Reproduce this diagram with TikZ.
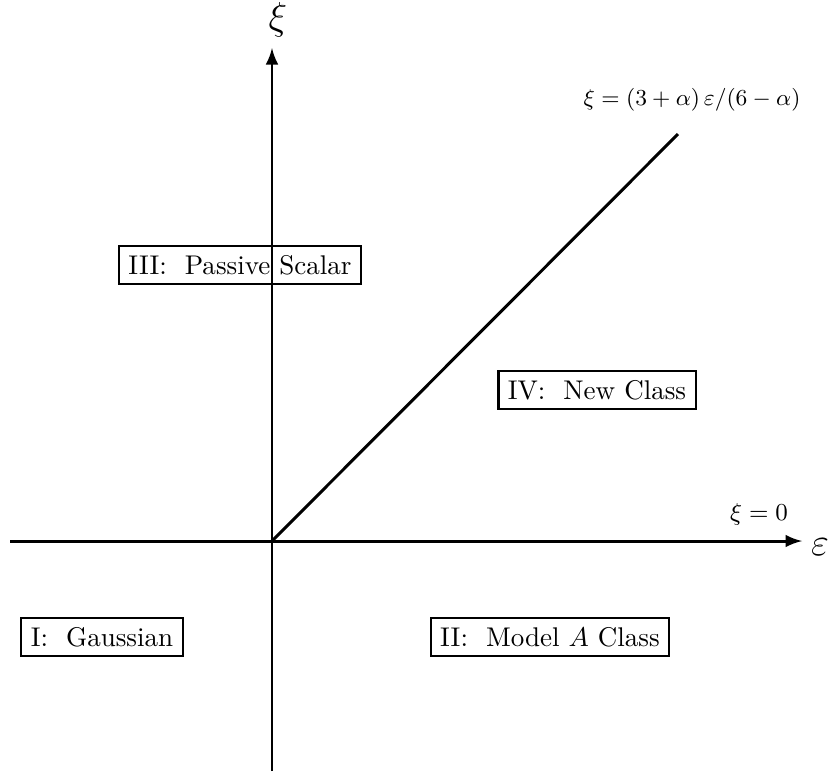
\documentclass[tikz,border=0pt]{standalone}
\usetikzlibrary{arrows}
\begin{document}
\begin{tikzpicture}[x=0.013cm,y=-0.013cm]

	\useasboundingbox (0,0) rectangle (835,773);

	\tikzset{
	  region/.style={draw,line width=0.8pt,inner sep=3.5pt},
	  axis/.style={line width=1.1pt}
	}

	% axes
	\coordinate (o) at (272,541);
	\coordinate (xl) at (10,541);
	\coordinate (xr) at (802,541);
	\coordinate (yb) at (272,771);
	\coordinate (yt) at (272,48);
	\draw[axis,-latex] (xl) -- (xr);
	\draw[axis,-latex] (yb) -- (yt);

	\node (xi) at (278,20) {\Large $\xi$};
	\node (eps) at (820,547) {\Large $\varepsilon$};
	\node (zero) at (759,514) {\small $\xi = 0$};

	% line
	\coordinate (lt) at (678,134);
	\draw[axis] (o) -- (lt);
	\node[scale=0.94] (eq) at (692,100) {\small $\xi = (3+\alpha)\,\varepsilon/(6-\alpha)$};

	% regions
	\node[region] (gauss) at (102,637) {I:\ \ Gaussian};
	\node[region] (modelA) at (550,637) {II:\ \ Model $A$ Class};
	\node[region] (passive) at (240,265) {III:\ \ Passive Scalar};
	\node[region] (new) at (597,390) {IV:\ \ New Class};

\end{tikzpicture}
\end{document}
